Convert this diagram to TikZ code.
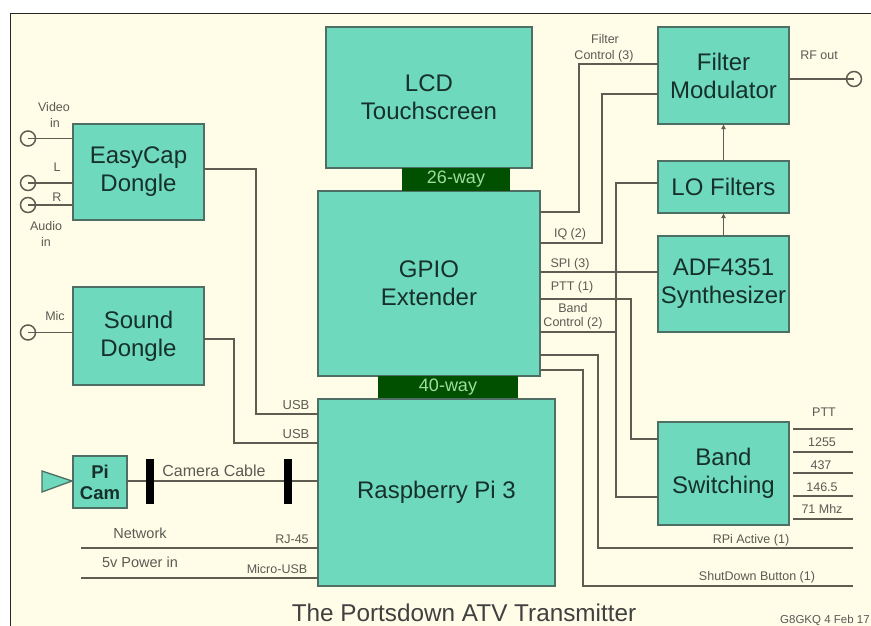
\documentclass[tikz,border=0pt]{standalone}
\usepackage{fontspec}
\setmainfont{Liberation Sans}
\usetikzlibrary{arrows.meta}
\definecolor{cream}{HTML}{FFFDE8}
\definecolor{boxfill}{HTML}{6FD9BD}
\definecolor{boxedge}{HTML}{4F6F64}
\definecolor{wirecol}{HTML}{5F5C52}
\definecolor{boxtext}{HTML}{16302A}
\definecolor{labeltext}{HTML}{5A5A52}
\definecolor{busgreen}{HTML}{005000}
\definecolor{bustext}{HTML}{9FDCA0}
\tikzset{
  block/.style={draw=boxedge,fill=boxfill,line width=1.5pt,inner sep=0pt,outer sep=0pt,align=center,text=boxtext,font=\fontsize{24}{28}\selectfont},
  bus/.style={fill=busgreen,inner sep=0pt,outer sep=0pt,text=bustext,font=\fontsize{18}{20}\selectfont},
  wire/.style={draw=wirecol,line width=1.4pt},
  thinwire/.style={draw=wirecol,line width=1.1pt},
  jack/.style={circle,draw=wirecol,line width=1.5pt,minimum size=15pt,inner sep=0pt,outer sep=0pt},
  lab/.style={text=labeltext,inner sep=0pt,font=\fontsize{12.5}{14}\selectfont},
  bar/.style={fill=black,inner sep=0pt,outer sep=0pt,minimum width=8pt,minimum height=45pt},
  sig/.style={-{Latex[length=5pt,width=5pt]},draw=wirecol,line width=1.2pt}
}
\newcommand{\bx}[7][block]{%
  \pgfmathsetmacro{\cxx}{(#3+#5)/2}\pgfmathsetmacro{\cyy}{(#4+#6)/2}%
  \pgfmathsetmacro{\www}{#5-#3}\pgfmathsetmacro{\hhh}{#6-#4}%
  \node[#1,minimum width=\www pt,minimum height=\hhh pt] (#2) at (\cxx,\cyy) {#7};}
\begin{document}
\begin{tikzpicture}[x=1pt,y=-1pt]
\useasboundingbox (0,0) rectangle (871,626);
\fill[white] (0,0) rectangle (871,626);
\fill[cream] (10,14) rectangle (871,626);
\draw[black!85,line width=1pt] (10,626) -- (10,14) -- (871,14);

% blocks
\bx{lcd}{326}{27}{532}{168}{LCD\\Touchscreen}
\bx{gpio}{318}{191}{540}{376}{GPIO\\Extender}
\bx[bus]{way26}{402}{168}{510}{191}{26-way}
\bx[bus]{way40}{378}{376}{518}{399}{40-way}
\bx{rpi}{318}{399}{555}{586}{Raspberry Pi 3}
\bx{easy}{73}{124}{204}{220}{EasyCap\\Dongle}
\bx{sound}{73}{287}{204}{385}{Sound\\Dongle}
\node[block,minimum width=54pt,minimum height=52pt,font=\fontsize{18.5}{21}\selectfont\bfseries] (picam) at (100,482) {Pi\\Cam};
\bx{fmod}{658}{27}{789}{124}{Filter\\Modulator}
\bx{lof}{658}{161}{789}{213}{LO Filters}
\bx{adf}{658}{236}{789}{332}{ADF4351\\Synthesizer}
\bx{band}{658}{422}{789}{525}{Band\\Switching}

% jacks and free ends
\coordinate (jvc) at (28,138.5);
\coordinate (jlc) at (28,183);
\coordinate (jrc) at (28,205);
\coordinate (jmc) at (28,332.5);
\coordinate (jrfc) at (854,79);
\coordinate (net) at (81,548);
\coordinate (pwr) at (81,578);
\coordinate (ptta) at (793,429); \coordinate (pttb) at (853,429);
\coordinate (a1) at (793,452); \coordinate (b1) at (853,452);
\coordinate (a2) at (793,473); \coordinate (b2) at (853,473);
\coordinate (a3) at (793,496); \coordinate (b3) at (853,496);
\coordinate (a4) at (793,519); \coordinate (b4) at (853,519);
\coordinate (act) at (853,548);
\coordinate (shut) at (853,586);

% input wires, ending at the centre of each jack
\draw[wire] (jvc) -- (easy.west |- jvc);
\draw[wire] (jlc) -- (easy.west |- jlc);
\draw[wire] (jrc) -- (easy.west |- jrc);
\draw[wire] (jmc) -- (sound.west |- jmc);
\draw[wire] (fmod.east |- jrfc) -- (jrfc);
\node[jack] (jv) at (jvc) {};
\node[jack] (jl) at (jlc) {};
\node[jack] (jr) at (jrc) {};
\node[jack] (jm) at (jmc) {};
\node[jack] (jrf) at (jrfc) {};

\draw[wire] (easy.east |- 0,169) -| (256,414) -- (rpi.west |- 0,414);
\draw[wire] (sound.east |- 0,339) -| (234,443) -- (rpi.west |- 0,443);
\draw[thinwire] (picam.east |- 0,481) -- (rpi.west |- 0,481);
\draw[thinwire] (net) -- (rpi.west |- net);
\draw[thinwire] (pwr) -- (rpi.west |- pwr);

% bars
\node[bar] (bar1) at (150,481.5) {};
\node[bar] (bar2) at (288,481.5) {};
% camera lens
\path[draw=boxedge,fill=boxfill,line width=1.3pt] (42,471) -- (72,481) -- (42,492) -- cycle;

% GPIO right side wires
\draw[wire] (gpio.east |- 0,212) -| (579,64) -- (fmod.west |- 0,64);
\draw[wire] (gpio.east |- 0,243) -| (602,94) -- (fmod.west |- 0,94);
\draw[wire] (gpio.east |- 0,272) -- (adf.west |- 0,272);
\draw[wire] (lof.west |- 0,183) -| (616,497) -- (band.west |- 0,497);
\draw[wire] (gpio.east |- 0,332) -- (616,332);
\draw[wire] (gpio.east |- 0,299) -| (631,439) -- (band.west |- 0,439);
\draw[wire] (gpio.east |- 0,355) -| (598,548) -- (act);
\draw[wire] (gpio.east |- 0,370) -| (583,586) -- (shut);

% outputs
\draw[wire] (ptta) -- (pttb);
\draw[wire] (a1) -- (b1);
\draw[wire] (a2) -- (b2);
\draw[wire] (a3) -- (b3);
\draw[wire] (a4) -- (b4);

% arrows
\draw[sig] (lof.north) -- (fmod.south);
\draw[sig] (adf.north) -- (lof.south);

% labels
\node[lab] (l1) at (54,107) {Video};
\node[lab] (l2) at (55,123) {in};
\node[lab] (l3) at (57,167) {L};
\node[lab] (l4) at (57,197) {R};
\node[lab] (l5) at (46,226) {Audio};
\node[lab] (l6) at (46,242) {in};
\node[lab] (l7) at (55,316) {Mic};
\node[lab] (l8) at (605,39) {Filter};
\node[lab] (l9) at (604,56) {Control (3)};
\node[lab] (l10) at (819,55) {RF out};
\node[lab] (l11) at (570,234) {IQ (2)};
\node[lab] (l12) at (570,264) {SPI (3)};
\node[lab] (l13) at (572,287) {PTT (1)};
\node[lab] (l14) at (573,308) {Band};
\node[lab] (l15) at (573,323) {Control (2)};
\node[lab] (l16) at (824,412) {PTT};
\node[lab] (l17) at (822,442) {1255};
\node[lab] (l18) at (821,465) {437};
\node[lab] (l19) at (822,487) {146.5};
\node[lab] (l20) at (822,509) {71 Mhz};
\node[lab] (l21) at (751,540) {RPi Active (1)};
\node[lab] (l22) at (757,577) {ShutDown Button (1)};
\node[lab,font=\fontsize{13}{14}\selectfont] (l23) at (296,405) {USB};
\node[lab,font=\fontsize{13}{14}\selectfont] (l24) at (296,434) {USB};
\node[lab,font=\fontsize{16}{18}\selectfont] (l25) at (214,471) {Camera Cable};
\node[lab,font=\fontsize{14.5}{16}\selectfont] (l26) at (140,533) {Network};
\node[lab,font=\fontsize{14.5}{16}\selectfont] (l27) at (140,562) {5v Power in};
\node[lab] (l28) at (292,539) {RJ-45};
\node[lab] (l29) at (277,569) {Micro-USB};
\node[text=black!75,inner sep=0pt,font=\fontsize{24.3}{26}\selectfont] (title) at (464,613) {The Portsdown ATV Transmitter};
\node[lab,anchor=west,text=black!65,font=\fontsize{11.5}{13}\selectfont] (sign) at (780,620) {G8GKQ 4 Feb 17};
\end{tikzpicture}
\end{document}
